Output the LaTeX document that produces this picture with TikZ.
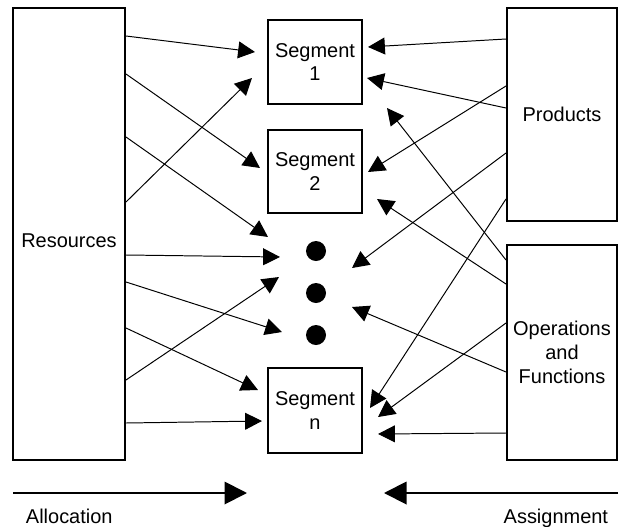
\documentclass[tikz,border=0pt]{standalone}
\usepackage{fontspec}
\setmainfont{Liberation Sans}
\usetikzlibrary{arrows.meta}
\begin{document}
\begin{tikzpicture}[x=0.025cm, y=-0.025cm,
    every node/.style={font=\fontsize{14.2}{17}\selectfont},
    box/.style={draw, line width=1.4pt, rectangle, inner sep=0pt, align=center},
    dot/.style={circle, fill=black, minimum size=0.5cm, inner sep=0pt},
    conn/.style={line width=0.7pt, -{Triangle[length=12pt, width=12pt]}},
    flow/.style={line width=1.4pt, -{Triangle[length=16pt, width=16pt]}}]
        \useasboundingbox (0,0) rectangle (620,527);
        % Boxes on both sides
        \node[box, minimum width=2.8cm, minimum height=11.3cm, text height=0.7cm] (res) at (69,234) {Resources};
        \node[box, minimum width=2.75cm, minimum height=5.33cm] (prod) at (562,114.5) {Products};
        \node[box, minimum width=2.75cm, minimum height=5.38cm] (ops) at (562,352.5) {Operations\\and\\Functions};
        
        % Segments in the middle
        \node[box, minimum width=2.35cm, minimum height=2.1cm] (s1) at (315,62) {Segment\\1};
        \node[box, minimum width=2.35cm, minimum height=2.08cm] (s2) at (315,171.5) {Segment\\2};
        \node[box, minimum width=2.35cm, minimum height=2.12cm] (sn) at (315,410.5) {Segment\\n};
        \node[dot] (d1) at (316,251) {};
        \node[dot] (d2) at (316,293) {};
        \node[dot] (d3) at (316,335) {};
        
        % Arrow tips (left side)
        \coordinate (l1) at (255,52);   \coordinate (l2) at (260,168);
        \coordinate (l3) at (268,237);  \coordinate (l4) at (252,78);
        \coordinate (l5) at (280,257);  \coordinate (l6) at (282,332);
        \coordinate (l7) at (258,390);  \coordinate (l8) at (279,277);
        \coordinate (l9) at (262,421);
        % Arrow tips (right side)
        \coordinate (r1) at (368,47);   \coordinate (r2) at (367,78);
        \coordinate (r3) at (368,172);  \coordinate (r4) at (352,268);
        \coordinate (r5) at (370,408);  \coordinate (r6) at (387,108);
        \coordinate (r7) at (377,199);  \coordinate (r8) at (378,417);
        \coordinate (r9) at (352,307);  \coordinate (r10) at (378,434);
        
        % Allocation of resources
        \draw[conn] (res.east |- 0,36)  -- (l1);
        \draw[conn] (res.east |- 0,74)  -- (l2);
        \draw[conn] (res.east |- 0,137) -- (l3);
        \draw[conn] (res.east |- 0,202) -- (l4);
        \draw[conn] (res.east |- 0,255) -- (l5);
        \draw[conn] (res.east |- 0,282) -- (l6);
        \draw[conn] (res.east |- 0,328) -- (l7);
        \draw[conn] (res.east |- 0,380) -- (l8);
        \draw[conn] (res.east |- 0,423) -- (l9);
        
        % Assignment of products and operations
        \draw[conn] (prod.west |- 0,39)  -- (r1);
        \draw[conn] (prod.west |- 0,108) -- (r2);
        \draw[conn] (prod.west |- 0,86)  -- (r3);
        \draw[conn] (prod.west |- 0,153) -- (r4);
        \draw[conn] (prod.west |- 0,199) -- (r5);
        \draw[conn] (ops.west |- 0,260)  -- (r6);
        \draw[conn] (ops.west |- 0,284)  -- (r7);
        \draw[conn] (ops.west |- 0,323)  -- (r8);
        \draw[conn] (ops.west |- 0,372)  -- (r9);
        \draw[conn] (ops.west |- 0,433)  -- (r10);
        
        % Direction arrows at the bottom
        \coordinate (a0) at (13,493);  \coordinate (a1) at (247,493);
        \coordinate (b0) at (618,493); \coordinate (b1) at (384,493);
        \draw[flow] (a0) -- (a1);
        \draw[flow] (b0) -- (b1);
        \node[anchor=base west] (alloc) at (21,523) {Allocation};
        \node[anchor=base east] (assign) at (613,523) {Assignment};
\end{tikzpicture}
\end{document}
